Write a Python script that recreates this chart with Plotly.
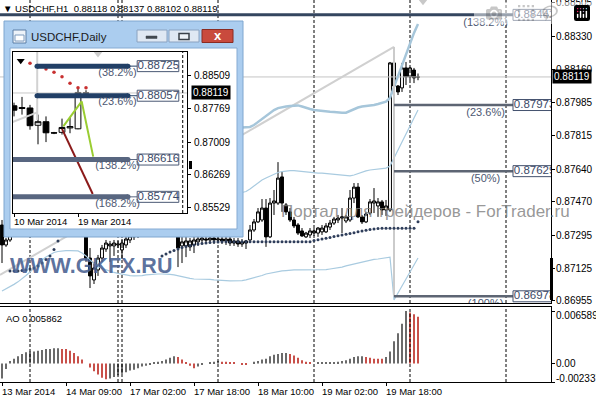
import plotly.graph_objects as go

W, H = 596, 400


def px(x):
    return x / W


def py(y):
    return 1 - y / H


# ---------------- H1 main chart data ----------------
bar_index = list(range(105))
h1_open = [
    0.87349, 0.87245, 0.87271, 0.87313, 0.87344, 0.87365, 0.87385, 0.87401, 0.87417, 0.87453,
    0.87479, 0.87505, 0.87531, 0.87500, 0.87469, 0.87427, 0.87406, 0.87385, 0.87396, 0.87365,
    0.87344, 0.87323, 0.87177, 0.87063, 0.87115, 0.87177, 0.87224, 0.87240, 0.87240, 0.87245,
    0.87219, 0.87245, 0.87271, 0.87287, 0.87302, 0.87318, 0.87333, 0.87354, 0.87344, 0.87365,
    0.87385, 0.87406, 0.87427, 0.87375, 0.87333, 0.87240, 0.87240, 0.87235, 0.87245, 0.87261,
    0.87271, 0.87276, 0.87271, 0.87281, 0.87271, 0.87276, 0.87266, 0.87276, 0.87255, 0.87266,
    0.87250, 0.87255, 0.87271, 0.87323, 0.87365, 0.87375, 0.87437, 0.87287, 0.87463, 0.87463,
    0.87599, 0.87453, 0.87417, 0.87375, 0.87349, 0.87318, 0.87287, 0.87297, 0.87307, 0.87307,
    0.87313, 0.87313, 0.87338, 0.87359, 0.87375, 0.87385, 0.87370, 0.87375, 0.87489, 0.87546,
    0.87391, 0.87365, 0.87411, 0.87463, 0.87448, 0.87469, 0.87427, 0.87427, 0.88192, 0.88072,
    0.88062, 0.88166, 0.88119, 0.88155, 0.88118]
h1_high = [
    0.87375, 0.87281, 0.87333, 0.87365, 0.87385, 0.87406, 0.87427, 0.87437, 0.87479, 0.87505,
    0.87557, 0.87573, 0.87552, 0.87521, 0.87489, 0.87448, 0.87427, 0.87417, 0.87417, 0.87385,
    0.87365, 0.87344, 0.87229, 0.87157, 0.87193, 0.87245, 0.87271, 0.87266, 0.87271, 0.87266,
    0.87276, 0.87292, 0.87307, 0.87323, 0.87333, 0.87354, 0.87375, 0.87385, 0.87385, 0.87417,
    0.87437, 0.87458, 0.87453, 0.87401, 0.87354, 0.87292, 0.87292, 0.87281, 0.87292, 0.87302,
    0.87302, 0.87297, 0.87297, 0.87302, 0.87292, 0.87292, 0.87287, 0.87292, 0.87281, 0.87281,
    0.87276, 0.87271, 0.87349, 0.87380, 0.87437, 0.87484, 0.87484, 0.87489, 0.87531, 0.87676,
    0.87625, 0.87463, 0.87437, 0.87391, 0.87359, 0.87333, 0.87313, 0.87333, 0.87333, 0.87338,
    0.87349, 0.87359, 0.87375, 0.87391, 0.87401, 0.87437, 0.87401, 0.87531, 0.87567, 0.87567,
    0.87401, 0.87417, 0.87484, 0.87541, 0.87489, 0.87479, 0.87479, 0.88197, 0.88275, 0.88077,
    0.88192, 0.88197, 0.88171, 0.88166, 0.88137]
h1_low = [
    0.87151, 0.87235, 0.87261, 0.87302, 0.87328, 0.87349, 0.87370, 0.87385, 0.87401, 0.87437,
    0.87458, 0.87489, 0.87479, 0.87448, 0.87406, 0.87375, 0.87354, 0.87344, 0.87333, 0.87313,
    0.87297, 0.87157, 0.87021, 0.87042, 0.87084, 0.87157, 0.87209, 0.87157, 0.87188, 0.87229,
    0.87172, 0.87229, 0.87255, 0.87271, 0.87281, 0.87297, 0.87307, 0.87313, 0.87323, 0.87344,
    0.87365, 0.87385, 0.87349, 0.87292, 0.87130, 0.87151, 0.87182, 0.87214, 0.87203, 0.87240,
    0.87255, 0.87250, 0.87255, 0.87250, 0.87255, 0.87250, 0.87245, 0.87240, 0.87240, 0.87235,
    0.87235, 0.87224, 0.87261, 0.87313, 0.87359, 0.87365, 0.87235, 0.87281, 0.87401, 0.87453,
    0.87417, 0.87401, 0.87365, 0.87333, 0.87297, 0.87287, 0.87281, 0.87281, 0.87292, 0.87287,
    0.87297, 0.87307, 0.87323, 0.87349, 0.87359, 0.87307, 0.87359, 0.87365, 0.87463, 0.87385,
    0.87354, 0.87359, 0.87401, 0.87411, 0.87391, 0.87401, 0.87396, 0.87417, 0.88036, 0.88025,
    0.88041, 0.88077, 0.88103, 0.88087, 0.88102]
h1_close = [
    0.87245, 0.87271, 0.87313, 0.87344, 0.87365, 0.87385, 0.87401, 0.87417, 0.87453, 0.87479,
    0.87505, 0.87531, 0.87500, 0.87469, 0.87427, 0.87406, 0.87385, 0.87396, 0.87365, 0.87344,
    0.87323, 0.87177, 0.87084, 0.87125, 0.87177, 0.87229, 0.87255, 0.87250, 0.87255, 0.87250,
    0.87255, 0.87276, 0.87292, 0.87307, 0.87318, 0.87333, 0.87354, 0.87344, 0.87365, 0.87385,
    0.87406, 0.87427, 0.87375, 0.87333, 0.87229, 0.87261, 0.87266, 0.87266, 0.87271, 0.87276,
    0.87281, 0.87271, 0.87281, 0.87271, 0.87276, 0.87266, 0.87276, 0.87255, 0.87266, 0.87250,
    0.87261, 0.87266, 0.87323, 0.87365, 0.87417, 0.87437, 0.87287, 0.87463, 0.87474, 0.87593,
    0.87463, 0.87417, 0.87375, 0.87344, 0.87307, 0.87292, 0.87307, 0.87318, 0.87318, 0.87333,
    0.87333, 0.87344, 0.87359, 0.87380, 0.87385, 0.87391, 0.87391, 0.87489, 0.87546, 0.87391,
    0.87365, 0.87406, 0.87469, 0.87474, 0.87469, 0.87427, 0.87448, 0.88192, 0.88072, 0.88041,
    0.88166, 0.88119, 0.88166, 0.88114, 0.88119]

sar_h1 = ([None, None, 0.87110, 0.87110, 0.87110, 0.87112, 0.87115, 0.87120, 0.87125, 0.87136,
           0.87151, 0.87169, 0.87188, 0.87222, 0.87266] + [None] * 25 +
          [0.87188, 0.87198, 0.87209, 0.87216, 0.87224, 0.87232, 0.87237, 0.87242, 0.87245, 0.87250,
           0.87253, 0.87255, 0.87258, 0.87260, 0.87261, 0.87262, 0.87262, 0.87262, 0.87262, 0.87262,
           0.87262, 0.87262, 0.87262, 0.87262, 0.87262, 0.87262, 0.87262, 0.87262, 0.87262, 0.87262,
           0.87262, 0.87262, 0.87262, 0.87262, 0.87262, 0.87262, 0.87262, 0.87262, 0.87268, 0.87272,
           0.87276, 0.87280, 0.87284, 0.87289, 0.87293, 0.87297, 0.87301, 0.87305, 0.87309, 0.87314,
           0.87318, 0.87321, 0.87325, 0.87328, 0.87331, 0.87332, 0.87332, 0.87332, 0.87332, 0.87332,
           0.87332, 0.87332, 0.87332, 0.87332, 0.87366])

bb_upper = [None] * 60 + [
    0.87856, 0.87857, 0.87859, 0.87869, 0.87885, 0.87900, 0.87916, 0.87931, 0.87947, 0.87957,
    0.87963, 0.87965, 0.87968, 0.87971, 0.87971, 0.87965, 0.87957, 0.87952, 0.87947, 0.87944,
    0.87942, 0.87939, 0.87938, 0.87937, 0.87934, 0.87933, 0.87933, 0.87942, 0.87952, 0.87960,
    0.87965, 0.87967, 0.87968, 0.87973, 0.87978, 0.87983, 0.87990, 0.88010, 0.88067, 0.88124,
    0.88181, 0.88238, 0.88296, 0.88348, 0.88394]
bb_middle = [None] * 60 + [
    0.87518, 0.87523, 0.87536, 0.87552, 0.87567, 0.87583, 0.87593, 0.87604, 0.87614, 0.87622,
    0.87627, 0.87630, 0.87632, 0.87632, 0.87630, 0.87627, 0.87624, 0.87622, 0.87619, 0.87619,
    0.87619, 0.87617, 0.87614, 0.87612, 0.87609, 0.87606, 0.87604, 0.87604, 0.87609, 0.87617,
    0.87624, 0.87630, 0.87635, 0.87638, 0.87640, 0.87643, 0.87645, 0.87656, 0.87697, 0.87739,
    0.87780, 0.87822, 0.87864, 0.87905, 0.87947]
bb_lower = [
    0.87006, 0.87016, 0.87027, 0.87040, 0.87053, 0.87068, 0.87086, 0.87104, 0.87125, 0.87146,
    0.87167, 0.87182, 0.87195, 0.87206, 0.87211, 0.87214, 0.87216, 0.87216, 0.87216, 0.87214,
    0.87203, 0.87188, 0.87167, 0.87149, 0.87133, 0.87123, 0.87115, 0.87107, 0.87102, 0.87097,
    0.87092, 0.87089, 0.87086, 0.87084, 0.87084, 0.87086, 0.87089, 0.87092, 0.87094, 0.87094,
    0.87094, 0.87094, 0.87092, 0.87089, 0.87084, 0.87079, 0.87073, 0.87071, 0.87068, 0.87068,
    0.87068, 0.87068, 0.87066, 0.87063, 0.87063, 0.87060, 0.87060, 0.87058, 0.87058, 0.87058,
    0.87060, 0.87063, 0.87068, 0.87073, 0.87079, 0.87086, 0.87094, 0.87099, 0.87104, 0.87107,
    0.87110, 0.87112, 0.87115, 0.87115, 0.87115, 0.87115, 0.87115, 0.87115, 0.87115, 0.87115,
    0.87115, 0.87117, 0.87120, 0.87123, 0.87125, 0.87130, 0.87136, 0.87141, 0.87146, 0.87151,
    0.87157, 0.87162, 0.87167, 0.87170, 0.87172, 0.87175, 0.87177, 0.87182, 0.86959, 0.86995,
    0.87032, 0.87068, 0.87104, 0.87141, 0.87177]

ao_values = [
    -0.0019, -0.0007, 0.0003, 0.0006, 0.0009, 0.0012, 0.0014, 0.0015, 0.0015, 0.0016,
    0.0017, 0.0018, 0.0018, 0.0019, 0.0019, 0.0018, 0.0018, 0.0016, 0.0013, 0.0009,
    0.0005, 0.0000, -0.0005, -0.0010, -0.0014, -0.0018, -0.0020, -0.0019, -0.0017, -0.0015,
    -0.0013, -0.0011, -0.0009, -0.0008, -0.0006, -0.0004, -0.0003, -0.0001, 0.0001, 0.0002,
    0.0003, 0.0005, 0.0007, 0.0009, 0.0008, 0.0005, 0.0001, -0.0003, -0.0006, -0.0004,
    -0.0002, 0.0000, 0.0001, 0.0002, 0.0003, 0.0002, 0.0002, 0.0001, 0.0001, 0.0000,
    -0.0001, -0.0001, 0.0000, 0.0002, 0.0003, 0.0005, 0.0006, 0.0009, 0.0011, 0.0012,
    0.0013, 0.0013, 0.0012, 0.0010, 0.0007, 0.0004, 0.0002, 0.0001, 0.0000, 0.0001,
    0.0001, 0.0001, 0.0001, 0.0001, 0.0002, 0.0003, 0.0004, 0.0006, 0.0008, 0.0009,
    0.0009, 0.0008, 0.0007, 0.0006, 0.0006, 0.0006, 0.0008, 0.0015, 0.0028, 0.0038,
    0.0050, 0.006589, 0.0064, 0.0062, 0.005862]

current_price = 0.88119
header_text = "▼ USDCHF,H1  0.88118 0.88137 0.88102 0.88119"
ao_header = "AO 0.005862"
price_ticks = [0.88505, 0.88330, 0.88160, 0.87985, 0.87815, 0.87640, 0.87470, 0.87295, 0.87125, 0.86955]
ao_ticks = [0.006589, 0.0, -0.002337]
ao_tick_text = ["0.006589", "0.00", "-0.002337"]
date_idx = [0, 16, 32, 48, 64, 80, 96]
date_text = ["13 Mar 2014", "14 Mar 09:00", "17 Mar 02:00", "17 Mar 18:00",
             "18 Mar 10:00", "19 Mar 02:00", "19 Mar 18:00"]
day_separators = [7, 29, 30, 54, 78, 102, 126]

fib_levels = [0.88442, 0.87973, 0.87629, 0.86978]
fib_names = ["(138.2%)", "(23.6%)", "(50%)", "(100%)"]
fib_start = [-0.5, 98, 98, 98]
fib_end = 127.75
fib_anchor_idx = 98
fib_anchor_high = 0.88275
trend_x = [-0.5, 98]
trend_y = [0.87089, 0.88275]
arrow_main = (105.25, 0.88520)

# ---------------- Daily inset data ----------------
daily_idx = list(range(10))
daily_open = [0.8783, 0.8779, 0.8778, 0.8739, 0.8747, 0.8722, 0.8723, 0.8733, 0.8731, 0.8812]
daily_high = [0.8790, 0.8803, 0.8785, 0.8763, 0.8759, 0.8724, 0.8754, 0.8757, 0.8825, 0.8818]
daily_low = [0.8759, 0.8763, 0.8729, 0.8696, 0.8701, 0.8719, 0.8718, 0.8721, 0.8730, 0.8809]
daily_close = [0.8773, 0.8777, 0.8738, 0.8747, 0.8722, 0.87215, 0.8734, 0.8736, 0.8813, 0.88119]
daily_sar_idx = [2, 3, 4, 5, 6, 7, 8, 9]
daily_sar = [0.88789, 0.8872, 0.8866, 0.88586, 0.88486, 0.88337, 0.88238, 0.88238]
inset_ticks = [0.88509, 0.87769, 0.87009, 0.86269, 0.85529]
inset_date_idx = [0, 8]
inset_date_text = ["10 Mar 2014", "19 Mar 2014"]
inset_fib_levels = [0.88725, 0.88057, 0.86616, 0.85774]
inset_fib_names = ["(38.2%)", "(23.6%)", "(138.2%)", "(168.2%)"]
inset_fib_start = [2.875, 2.875, -1.0, -1.0]
inset_fib_end = 14.25
inset_fib_colors = ["#213f66", "#213f66", "#586680", "#586680"]
green_x = [6.16, 8.46, 9.9]
green_y = [0.87367, 0.87927, 0.86681]
red_x = [6.0, 9.84]
red_y = [0.87308, 0.85837]
inset_trend_x = [-0.2, 2.9]
inset_trend_y = [0.8746, 0.8768]
inset_vert_x = 2.9
inset_vert_y = [0.8751, 0.8910]
inset_separator = 21.09
inset_arrow = (0.84, 0.88848)
inset_gray_arrow = (10.5, 0.89021)

# ---------------- axes geometry ----------------
MAIN_X = [-0.5, 137.25]
MAIN_Y = [0.869431, 0.885193]
AO_Y = [-0.002337, 0.0071]
INSET_X = [-0.125, 21.625]
INSET_Y = [0.85409, 0.89044]
mpp = (MAIN_Y[1] - MAIN_Y[0]) / 303.0
ipp = (INSET_Y[1] - INSET_Y[0]) / 161.0
FONT = "Liberation Sans, Arial, sans-serif"
NONE = dict(hoverinfo="skip", showlegend=False)

fig = go.Figure()

# ---- main subplot (x, y) ----
sx, sy = [], []
for s in day_separators:
    sx += [s, s, None]
    sy += [MAIN_Y[0], MAIN_Y[1], None]
fig.add_trace(go.Scatter(x=sx, y=sy, mode="lines",
                         line=dict(color="black", width=1, dash="3px,2px"), **NONE))
fig.add_trace(go.Scatter(x=MAIN_X, y=[current_price] * 2, mode="lines",
                         line=dict(color="#c4c4c4", width=1), **NONE))
fig.add_trace(go.Scatter(x=trend_x, y=trend_y, mode="lines",
                         line=dict(color="#d0d0d0", width=2), **NONE))
fig.add_trace(go.Scatter(x=bar_index, y=bb_lower, mode="lines",
                         line=dict(color="#a9cbe0", width=1.2), **NONE))
fig.add_trace(go.Scatter(x=bar_index, y=bb_middle, mode="lines",
                         line=dict(color="#a9cbe0", width=1.2), **NONE))
fig.add_trace(go.Scatter(x=bar_index, y=bb_upper, mode="lines",
                         line=dict(color="#a6c6da", width=2.5), **NONE))
fig.add_trace(go.Scatter(x=[fib_anchor_idx, fib_anchor_idx], y=[fib_anchor_high, fib_levels[-1]],
                         mode="lines", line=dict(color="#cbcbcb", width=2), **NONE))
fig.add_trace(go.Candlestick(
    x=bar_index, open=h1_open, high=h1_high, low=h1_low, close=h1_close,
    increasing=dict(line=dict(color="black", width=1), fillcolor="white"),
    decreasing=dict(line=dict(color="black", width=1), fillcolor="black"),
    whiskerwidth=0, hoverinfo="skip", showlegend=False))
fig.add_trace(go.Scatter(x=bar_index, y=sar_h1, mode="markers",
                         marker=dict(color="#2e3d5a", size=3), **NONE))
fig.add_trace(go.Scatter(x=[arrow_main[0]], y=[arrow_main[1]], mode="markers",
                         marker=dict(symbol="triangle-down", color="#c8c8c8", size=11), **NONE))
for k, lvl in enumerate(fib_levels):
    col = "#34465f" if k == 0 else "#5d6573"
    fig.add_trace(go.Scatter(x=[fib_start[k], fib_end], y=[lvl, lvl], mode="lines",
                             line=dict(color=col, width=3 if k == 0 else 2.5), **NONE))
    b0, b1 = lvl - 5.5 * mpp, lvl + 5.5 * mpp
    fig.add_trace(go.Scatter(x=[fib_end, 145, 145, fib_end, fib_end], y=[b0, b0, b1, b1, b0],
                             mode="lines", fill="toself", fillcolor="white",
                             line=dict(color="#44526e", width=1), **NONE))
fig.add_trace(go.Scatter(x=[fib_end + 0.2] * 4, y=fib_levels, text=[f"{v:.5f}" for v in fib_levels],
                         mode="text", textposition="middle right",
                         textfont=dict(size=11.5, color="#3c4a68", family=FONT), **NONE))
fig.add_trace(go.Scatter(x=[120.9] * 4, y=[v - 8 * mpp for v in fib_levels], text=fib_names,
                         mode="text", textposition="middle center",
                         textfont=dict(size=11, color="#4d5872", family=FONT), **NONE))

# ---- AO subplot (x2, y2) ----
ax2, ay2 = [], []
for s in day_separators:
    ax2 += [s, s, None]
    ay2 += [AO_Y[0], AO_Y[1], None]
fig.add_trace(go.Scatter(x=ax2, y=ay2, mode="lines", xaxis="x2", yaxis="y2",
                         line=dict(color="black", width=1, dash="3px,2px"), **NONE))
ao_colors = []
state = "up"
for k, v in enumerate(ao_values):
    if k > 0:
        if v > ao_values[k - 1]:
            state = "up"
        elif v < ao_values[k - 1]:
            state = "down"
    ao_colors.append("#6a6a6a" if state == "up" else "#c8504a")
fig.add_trace(go.Bar(x=bar_index, y=ao_values, xaxis="x2", yaxis="y2", width=0.3,
                     marker=dict(color=ao_colors, line=dict(width=0)), **NONE))

# ---- inset cover (x3, y3) ----
fig.add_trace(go.Scatter(x=[-1, 2, 2, -1, -1], y=[-1, -1, 2, 2, -1], xaxis="x3", yaxis="y3",
                         mode="lines", fill="toself", fillcolor="white",
                         line=dict(color="white", width=0), **NONE))

# ---- inset daily chart (x4, y4) ----
I4 = dict(xaxis="x4", yaxis="y4")
fig.add_trace(go.Scatter(x=INSET_X, y=[current_price] * 2, mode="lines",
                         line=dict(color="#c8c8c8", width=1), **I4, **NONE))
fig.add_trace(go.Scatter(x=inset_trend_x, y=inset_trend_y, mode="lines",
                         line=dict(color="#d2d2d2", width=2), **I4, **NONE))
fig.add_trace(go.Scatter(x=[inset_vert_x] * 2, y=inset_vert_y, mode="lines",
                         line=dict(color="#d2d2d2", width=2), **I4, **NONE))
fig.add_trace(go.Scatter(x=[inset_separator] * 2, y=INSET_Y, mode="lines",
                         line=dict(color="black", width=1, dash="3px,2px"), **I4, **NONE))
fig.add_trace(go.Candlestick(
    x=daily_idx, open=daily_open, high=daily_high, low=daily_low, close=daily_close,
    increasing=dict(line=dict(color="black", width=1), fillcolor="white"),
    decreasing=dict(line=dict(color="black", width=1), fillcolor="black"),
    whiskerwidth=0, hoverinfo="skip", showlegend=False, **I4))
fig.add_trace(go.Scatter(x=green_x, y=green_y, mode="lines",
                         line=dict(color="#9acd32", width=2), **I4, **NONE))
fig.add_trace(go.Scatter(x=red_x, y=red_y, mode="lines",
                         line=dict(color="#8b1a1a", width=2), **I4, **NONE))
fig.add_trace(go.Scatter(x=daily_sar_idx, y=daily_sar, mode="markers",
                         marker=dict(color="#c83030", size=3.5), **I4, **NONE))
for k, lvl in enumerate(inset_fib_levels):
    col = inset_fib_colors[k]
    fig.add_trace(go.Scatter(x=[inset_fib_start[k], inset_fib_end], y=[lvl, lvl], mode="lines",
                             line=dict(color=col, width=5), **I4, **NONE))
    fig.add_trace(go.Scatter(x=[inset_fib_start[k], inset_fib_end], y=[lvl, lvl], mode="markers",
                             marker=dict(color=col, size=5), **I4, **NONE))
    fig.add_trace(go.Scatter(x=[inset_fib_end, 15.4], y=[lvl, lvl], mode="lines",
                             line=dict(color=col, width=1), **I4, **NONE))
    b0, b1 = lvl - 5.5 * ipp, lvl + 5.5 * ipp
    fig.add_trace(go.Scatter(x=[15.4, 20.6, 20.6, 15.4, 15.4], y=[b0, b0, b1, b1, b0],
                             mode="lines", fill="toself", fillcolor="white",
                             line=dict(color="#4a5874", width=1), **I4, **NONE))
fig.add_trace(go.Scatter(x=[15.45] * 4, y=inset_fib_levels,
                         text=[f"{v:.5f}" for v in inset_fib_levels],
                         mode="text", textposition="middle right",
                         textfont=dict(size=11.5, color="#3c4a68", family=FONT), **I4, **NONE))
fig.add_trace(go.Scatter(x=[12.94] * 4, y=[v - 7 * ipp for v in inset_fib_levels],
                         text=inset_fib_names, mode="text", textposition="middle center",
                         textfont=dict(size=11, color="#4d5872", family=FONT), **I4, **NONE))
fig.add_trace(go.Scatter(x=[inset_arrow[0]], y=[inset_arrow[1]], mode="markers",
                         marker=dict(symbol="triangle-down", color="black", size=7), **I4, **NONE))
fig.add_trace(go.Scatter(x=[inset_gray_arrow[0]], y=[inset_gray_arrow[1]], mode="markers",
                         marker=dict(symbol="triangle-down", color="#cccccc", size=9), **I4, **NONE))

# ---------------- layout ----------------
ax = dict(showgrid=False, zeroline=False, showline=True, mirror=True,
          linecolor="black", linewidth=1, fixedrange=True, tickcolor="black")
fig.update_layout(
    width=W, height=H, margin=dict(l=0, r=0, t=0, b=0),
    paper_bgcolor="white", plot_bgcolor="white", showlegend=False, hovermode=False,
    font=dict(family=FONT, size=10, color="black"),
    boxgap=0.15, boxgroupgap=0.15,
    xaxis=dict(domain=[0, px(551)], range=MAIN_X, anchor="y", showticklabels=False,
               ticks="", rangeslider=dict(visible=False), **ax),
    yaxis=dict(domain=[py(303), 1], range=MAIN_Y, anchor="x", side="right",
               tickvals=price_ticks, ticks="outside", ticklen=3, showticklabels=False, **ax),
    xaxis2=dict(domain=[0, px(551)], range=MAIN_X, anchor="y2", matches="x",
                tickvals=date_idx, ticks="outside", ticklen=3, showticklabels=False,
                rangeslider=dict(visible=False), **ax),
    yaxis2=dict(domain=[py(382), py(307)], range=AO_Y, anchor="x2", side="right",
                tickvals=ao_ticks, ticks="outside", ticklen=3, showticklabels=False, **ax),
    xaxis3=dict(domain=[px(4), px(243)], range=[0, 1], anchor="y3", visible=False, fixedrange=True),
    yaxis3=dict(domain=[py(237), py(21)], range=[0, 1], anchor="x3", visible=False, fixedrange=True),
    xaxis4=dict(domain=[px(13), px(187)], range=INSET_X, anchor="y4", tickvals=inset_date_idx,
                ticks="outside", ticklen=3, showticklabels=False,
                rangeslider=dict(visible=False), **ax),
    yaxis4=dict(domain=[py(213), py(52)], range=INSET_Y, anchor="x4", side="right",
                tickvals=inset_ticks, ticks="outside", ticklen=3, showticklabels=False, **ax),
)

# ---------------- shapes (window frame etc.) ----------------
shapes = []


def rect(x0, y0, x1, y1, fill, line=None, lw=0):
    shapes.append(dict(type="rect", xref="paper", yref="paper", layer="above",
                       x0=px(x0), x1=px(x1), y0=py(y1), y1=py(y0),
                       fillcolor=fill, line=dict(color=line or fill, width=lw)))


FRAME = "#abcdef"
rect(4, 21, 243, 48, FRAME)
rect(4, 48, 10, 229, FRAME)
rect(237, 48, 243, 229, FRAME)
rect(4, 229, 243, 237, FRAME)
rect(4, 21, 243, 237, "rgba(0,0,0,0)", "#7fa6cf", 1)
rect(10, 48, 237, 229, "rgba(0,0,0,0)", "#86abd3", 1)
# title icon
rect(13, 30, 26, 43, "#eef3f9", "#5d7fa6", 1)
rect(15, 35, 24, 41, "white", "#7f9cbf", 1)
# buttons
rect(137, 30, 167, 42, "#dfe8f3", "#8aa2c0", 1)
rect(146, 36, 157, 38.5, "#404850", "#404850", 0.5)
rect(169, 30, 199, 42, "#dfe8f3", "#8aa2c0", 1)
rect(179, 33.5, 189, 39.5, "#eef2f7", "#3a4048", 1.5)
rect(202, 29.5, 233, 42.5, "#c94a3d", "#8a2b22", 1)
# small black bars on the price scales
rect(550, 258, 553, 300, "black")
rect(189, 161, 192, 169, "black")
fig.update_layout(shapes=shapes)

# ---------------- annotations ----------------
anns = []


def ann(text, x, y, xref="paper", yref="paper", xanchor="left", yanchor="middle", **kw):
    d = dict(text=text, x=x, y=y, xref=xref, yref=yref, xanchor=xanchor, yanchor=yanchor,
             showarrow=False)
    d.update(kw)
    anns.append(d)


ann(header_text, px(1), py(8), font=dict(size=9.5, color="black"))
# main price scale labels
for v in price_ticks:
    ann(f"{v:.5f}", px(554), v, yref="y", font=dict(size=10, color="black"))
# date labels under the AO pane (left aligned at their bar)
for i, t in zip(date_idx, date_text):
    ann(t, px(2 + 4 * i - 2), py(391), font=dict(size=9.5, color="black"))
ann(ao_header, px(4), py(318), font=dict(size=9.5, color="black"))
for t, yy in zip(ao_tick_text, [315.5, 363, 378]):
    ann(t, px(554), py(yy), font=dict(size=10, color="black"))
ann(f"{current_price:.5f}", px(552), current_price, yref="y", bgcolor="black",
    borderpad=1, font=dict(size=10, color="white"))
# inset scale labels
for v in inset_ticks:
    ann(f"{v:.5f}", px(192), v, yref="y4", font=dict(size=10, color="black"))
for i, t in zip(inset_date_idx, inset_date_text):
    ann(t, px(14 + 8 * i - 2), py(221), font=dict(size=9.5, color="black"))
ann(f"{current_price:.5f}", px(191), current_price, yref="y4", bgcolor="black",
    borderpad=1, font=dict(size=10, color="white"))
ann("USDCHF,Daily", px(29), py(36.5), font=dict(size=11.5, color="#1b1b1b"))
ann("<b>x</b>", px(217.5), py(35.5), xanchor="center", font=dict(size=13, color="white"))
ann("<b>WWW.GKFX.RU</b>", px(8), py(266), font=dict(size=21.5, color="rgba(72,96,145,0.88)"))
ann("Портал для трейдеров - ForTrader.ru", px(279), py(211),
    font=dict(size=17, color="rgba(125,125,125,0.8)"))
fig.update_layout(annotations=anns)

fig.write_html("out.html", post_script="document.body.style.margin='0';document.body.style.overflow='hidden';")
